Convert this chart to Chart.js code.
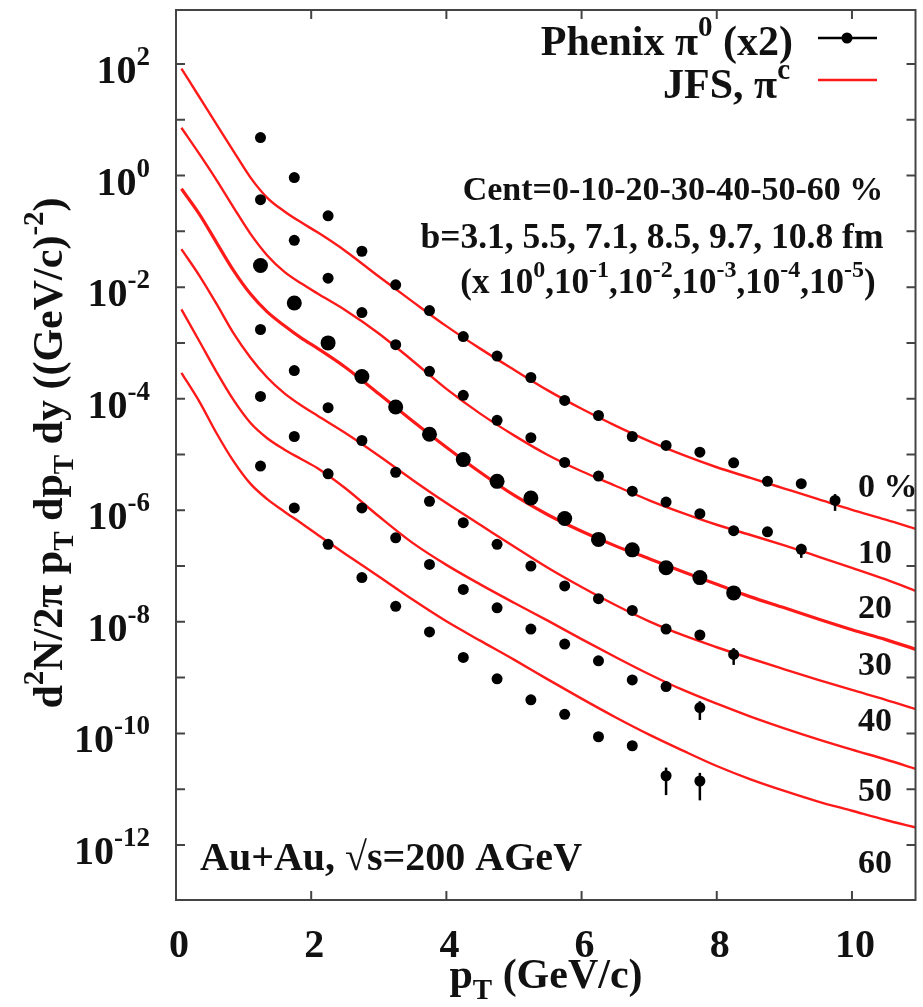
<!DOCTYPE html>
<html>
<head>
<meta charset="utf-8">
<script src="https://cdn.jsdelivr.net/npm/chart.js@4.4.1/dist/chart.umd.min.js"></script>
<style>
  html, body { margin: 0; padding: 0; background: #fff; }
</style>
</head>
<body>
<canvas id="chart" width="923" height="1007"></canvas>
<script>
// PHENIX pi0 data (x2), pT bins
const dataPt = [1.25, 1.75, 2.25, 2.75, 3.25, 3.75, 4.25, 4.75, 5.25, 5.75, 6.25, 6.75, 7.25, 7.75, 8.25, 8.75, 9.25, 9.75];
const phenix0 = [4.8, 0.92, 1.9e-1, 4.4e-2, 1.1e-2, 3.8e-3, 1.3e-3, 5.8e-4, 2.4e-4, 9.3e-5, 5.0e-5, 2.1e-5, 1.45e-5, 1.1e-5, 7.1e-6, 3.3e-6, 3.0e-6, 1.5e-6];
const phenix10 = [3.7e-1, 6.9e-2, 1.45e-2, 3.5e-3, 9.3e-4, 3.1e-4, 1.15e-4, 4.1e-5, 2.0e-5, 7.2e-6, 4.1e-6, 2.2e-6, 1.4e-6, 8.7e-7, 4.3e-7, 4.1e-7, 2.0e-7];
const phenix20 = [2.45e-2, 5.2e-3, 1.0e-3, 2.5e-4, 7.1e-5, 2.3e-5, 8.1e-6, 3.3e-6, 1.66e-6, 7.1e-7, 3.0e-7, 1.95e-7, 9.3e-8, 6.2e-8, 3.3e-8];
const phenix30 = [1.74e-3, 3.2e-4, 6.9e-5, 1.78e-5, 4.8e-6, 1.45e-6, 6.0e-7, 2.45e-7, 1.0e-7, 4.4e-8, 2.6e-8, 1.6e-8, 7.4e-9, 5.8e-9, 2.6e-9];
const phenix40 = [1.1e-4, 2.1e-5, 4.5e-6, 1.1e-6, 3.2e-7, 1.07e-7, 3.8e-8, 1.78e-8, 7.4e-9, 4.0e-9, 2.0e-9, 9.1e-10, 6.9e-10, 2.9e-10];
const phenix50 = [6.2e-6, 1.1e-6, 2.45e-7, 6.2e-8, 1.9e-8, 6.6e-9, 2.3e-9, 9.5e-10, 4.0e-10, 2.2e-10, 8.7e-11, 6.0e-11, 1.74e-11, 1.4e-11];

// the few visible error bars: which series, which point, relative size down / up
const errSeries = [0, 1, 3, 4, 5, 5];
const errIndex = [17, 16, 14, 13, 12, 13];
const errDown = [0.35, 0.3, 0.35, 0.4, 0.55, 0.55];
const errUp = [0.3, 0.25, 0.3, 0.3, 0.4, 0.4];

// JFS pi^c curves
const curvePt = [0.08, 0.35, 0.6, 0.85, 1.1, 1.35, 1.6, 1.85, 2.1, 2.5, 3.0, 3.5, 4.0, 4.5, 5.0, 5.5, 6.0, 6.5, 7.0, 7.5, 8.0, 8.5, 9.0, 9.5, 10.0, 10.5, 10.95];
const jfs0 = [83, 25.1, 8.3, 2.75, 0.93, 0.40, 0.23, 0.145, 9.5e-2, 4.5e-2, 1.55e-2, 5.5e-3, 2.0e-3, 7.9e-4, 3.3e-4, 1.41e-4, 6.6e-5, 3.3e-5, 1.74e-5, 9.8e-6, 5.9e-6, 3.8e-6, 2.45e-6, 1.58e-6, 1.02e-6, 6.8e-7, 4.6e-7];
const jfs10 = [7.2, 2.4, 0.83, 0.27, 9.1e-2, 3.7e-2, 1.9e-2, 1.17e-2, 7.6e-3, 3.9e-3, 1.48e-3, 4.8e-4, 1.5e-4, 5.4e-5, 2.2e-5, 9.8e-6, 5.0e-6, 2.75e-6, 1.51e-6, 8.9e-7, 5.5e-7, 3.6e-7, 2.34e-7, 1.48e-7, 9.3e-8, 5.75e-8, 3.55e-8];
const jfs20 = [0.58, 0.20, 6.3e-2, 2.0e-2, 7.6e-3, 3.6e-3, 2.05e-3, 1.23e-3, 7.9e-4, 3.7e-4, 1.23e-4, 4.0e-5, 1.35e-5, 4.8e-6, 1.86e-6, 8.3e-7, 4.2e-7, 2.3e-7, 1.35e-7, 7.9e-8, 4.7e-8, 2.8e-8, 1.78e-8, 1.12e-8, 7.2e-9, 4.8e-9, 3.2e-9];
const jfs30 = [4.8e-2, 1.58e-2, 5.0e-3, 1.5e-3, 5.5e-4, 2.4e-4, 1.26e-4, 7.6e-5, 4.9e-5, 2.45e-5, 9.5e-6, 3.5e-6, 1.35e-6, 5.5e-7, 2.24e-7, 9.3e-8, 4.2e-8, 2.0e-8, 1.02e-8, 5.75e-9, 3.5e-9, 2.2e-9, 1.41e-9, 9.1e-10, 6.0e-10, 4.0e-10, 2.7e-10];
const jfs40 = [4.0e-3, 1.05e-3, 3.0e-4, 9.5e-5, 3.7e-5, 1.95e-5, 1.23e-5, 8.3e-6, 5.6e-6, 2.5e-6, 7.8e-7, 2.6e-7, 1.05e-7, 4.7e-8, 2.2e-8, 1.05e-8, 4.9e-9, 2.34e-9, 1.15e-9, 6.0e-10, 3.4e-10, 2.0e-10, 1.23e-10, 7.8e-11, 5.1e-11, 3.4e-11, 2.3e-11];
const jfs50 = [2.9e-4, 8.7e-5, 2.4e-5, 7.6e-6, 3.0e-6, 1.58e-6, 9.5e-7, 5.9e-7, 3.6e-7, 1.66e-7, 6.5e-8, 2.5e-8, 1.02e-8, 4.6e-9, 2.1e-9, 9.3e-10, 4.2e-10, 1.95e-10, 9.5e-11, 4.9e-11, 2.6e-11, 1.5e-11, 9.3e-12, 6.0e-12, 4.1e-12, 2.8e-12, 2.05e-12];

// axis ticks
const xTicks = [0, 2, 4, 6, 8, 10];
const yTickValues = [1e3, 1e2, 1e1, 1e0, 1e-1, 1e-2, 1e-3, 1e-4, 1e-5, 1e-6, 1e-7, 1e-8, 1e-9, 1e-10, 1e-11, 1e-12, 1e-13];
const yLabelValues = [1e2, 1e0, 1e-2, 1e-4, 1e-6, 1e-8, 1e-10, 1e-12];
const yLabelExps = ["2", "0", "-2", "-4", "-6", "-8", "-10", "-12"];
const centLabels = ["0 %", "10", "20", "30", "40", "50", "60"];

const FONT = '"Liberation Serif", "DejaVu Serif", serif';
const INK = "#111";
const FRAME = "#444";
const RED = "#ff1a1a";

const phenixSets = [phenix0, phenix10, phenix20, phenix30, phenix40, phenix50];
const jfsSets = [jfs0, jfs10, jfs20, jfs30, jfs40, jfs50];

const datasets = [];
phenixSets.forEach((vals, i) => {
  datasets.push({
    type: "scatter",
    data: vals.map((v, k) => ({ x: dataPt[k], y: v })),
    backgroundColor: "#000",
    borderWidth: 0,
    pointRadius: i === 2 ? 7.5 : 5.5,
    order: 0,
  });
});
jfsSets.forEach((vals, i) => {
  datasets.push({
    type: "line",
    data: vals.map((v, k) => ({ x: curvePt[k], y: v })),
    borderColor: RED,
    borderWidth: i === 2 ? 3.2 : 2.4,
    pointRadius: 0,
    fill: false,
    cubicInterpolationMode: "monotone",
    order: 1,
  });
});

// text helpers with super/subscripts
function partFont(kind, size) {
  const s = kind === "n" ? size : Math.round(size * 0.68);
  return `bold ${s}px ${FONT}`;
}
function richWidth(ctx, parts, size) {
  let w = 0;
  parts.forEach(([t, k]) => {
    ctx.font = partFont(k, size);
    w += ctx.measureText(t).width;
  });
  return w;
}
function drawRich(ctx, parts, x, y, size, align) {
  const w = richWidth(ctx, parts, size);
  let cx = align === "right" ? x - w : align === "center" ? x - w / 2 : x;
  ctx.textAlign = "left";
  ctx.textBaseline = "alphabetic";
  parts.forEach(([t, k]) => {
    ctx.font = partFont(k, size);
    const dy = k === "sup" ? -size * 0.45 : k === "sub" ? size * 0.25 : 0;
    ctx.fillText(t, cx, y + dy);
    cx += ctx.measureText(t).width;
  });
}

const errorBarPlugin = {
  id: "errorBars",
  afterDatasetsDraw(chart) {
    const ctx = chart.ctx;
    const xs = chart.scales.x;
    const ys = chart.scales.y;
    ctx.save();
    ctx.strokeStyle = "#000";
    ctx.lineWidth = 2.5;
    errSeries.forEach((s, i) => {
      const k = errIndex[i];
      const v = phenixSets[s][k];
      const px = xs.getPixelForValue(dataPt[k]);
      ctx.beginPath();
      ctx.moveTo(px, ys.getPixelForValue(v * (1 + errUp[i])));
      ctx.lineTo(px, ys.getPixelForValue(v * (1 - errDown[i])));
      ctx.stroke();
    });
    ctx.restore();
  },
};

const framePlugin = {
  id: "frame",
  afterDraw(chart) {
    const ctx = chart.ctx;
    const a = chart.chartArea;
    const xs = chart.scales.x;
    const ys = chart.scales.y;
    ctx.save();
    ctx.strokeStyle = FRAME;
    ctx.lineWidth = 2;
    ctx.strokeRect(a.left, a.top, a.right - a.left, a.bottom - a.top);

    // ticks inside the frame
    ctx.beginPath();
    yTickValues.forEach((v) => {
      const py = ys.getPixelForValue(v);
      if (py < a.top + 1 || py > a.bottom - 1) return;
      ctx.moveTo(a.left, py); ctx.lineTo(a.left + 9, py);
      ctx.moveTo(a.right, py); ctx.lineTo(a.right - 9, py);
    });
    xTicks.forEach((v) => {
      const px = xs.getPixelForValue(v);
      if (px < a.left + 1) return;
      ctx.moveTo(px, a.bottom); ctx.lineTo(px, a.bottom - 9);
      ctx.moveTo(px, a.top); ctx.lineTo(px, a.top + 9);
    });
    ctx.stroke();

    ctx.fillStyle = INK;
    // y tick labels
    yLabelValues.forEach((v, i) => {
      const py = ys.getPixelForValue(v);
      drawRich(ctx, [["10", "n"], [yLabelExps[i], "sup"]], 150, py + 19, 40, "right");
    });
    // x tick labels
    xTicks.forEach((v) => {
      const px = xs.getPixelForValue(v);
      drawRich(ctx, [[String(v), "n"]], px + 3, 957, 40, "center");
    });

    // axis titles
    drawRich(ctx, [["p", "n"], ["T", "sub"], [" (GeV/c)", "n"]], 546, 988, 42, "center");
    ctx.save();
    ctx.translate(62, 453);
    ctx.rotate(-Math.PI / 2);
    drawRich(ctx, [["d", "n"], ["2", "sup"], ["N/2\u03c0 p", "n"], ["T", "sub"], [" dp", "n"], ["T", "sub"],
      [" dy ((GeV/c)", "n"], ["-2", "sup"], [")", "n"]], 0, 0, 42, "center");
    ctx.restore();

    // legend
    drawRich(ctx, [["Phenix \u03c0", "n"], ["0", "sup"], [" (x2)", "n"]], 793, 55, 42, "right");
    drawRich(ctx, [["JFS, \u03c0", "n"], ["c", "sup"]], 790, 98, 42, "right");
    ctx.strokeStyle = "#000";
    ctx.lineWidth = 2.5;
    ctx.beginPath(); ctx.moveTo(818, 38); ctx.lineTo(877, 38); ctx.stroke();
    ctx.beginPath(); ctx.arc(847, 38, 5.5, 0, Math.PI * 2); ctx.fillStyle = "#000"; ctx.fill();
    ctx.strokeStyle = RED;
    ctx.beginPath(); ctx.moveTo(818, 80); ctx.lineTo(877, 80); ctx.stroke();

    // annotations
    ctx.fillStyle = INK;
    drawRich(ctx, [["Cent=0-10-20-30-40-50-60 %", "n"]], 673, 200, 34, "center");
    drawRich(ctx, [["b=3.1, 5.5, 7.1, 8.5, 9.7, 10.8 fm", "n"]], 652, 248, 35.5, "center");
    drawRich(ctx, [["(x 10", "n"], ["0", "sup"], [",10", "n"], ["-1", "sup"], [",10", "n"], ["-2", "sup"],
      [",10", "n"], ["-3", "sup"], [",10", "n"], ["-4", "sup"], [",10", "n"], ["-5", "sup"], [")", "n"]], 668, 293, 35, "center");
    drawRich(ctx, [["Au+Au, \u221As=200 AGeV", "n"]], 200, 870, 40, "left");

    const centY = [497, 563, 618, 675, 731, 801, 873];
    centLabels.forEach((t, i) => {
      drawRich(ctx, [[t, "n"]], 858, centY[i], 34, "left");
    });
    ctx.restore();
  },
};

new Chart(document.getElementById("chart"), {
  type: "scatter",
  data: { datasets },
  options: {
    responsive: false,
    animation: false,
    layout: { padding: { top: 10, right: 1, left: 0, bottom: 0 } },
    plugins: { legend: { display: false }, tooltip: { enabled: false } },
    scales: {
      x: {
        type: "linear",
        min: 0,
        max: 10.94,
        grid: { display: false },
        border: { display: false },
        ticks: { display: false },
        afterFit: (s) => { s.height = 107; },
      },
      y: {
        type: "logarithmic",
        min: 1.03e-13,
        max: 930,
        grid: { display: false },
        border: { display: false },
        ticks: { display: false },
        afterFit: (s) => { s.width = 176; },
      },
    },
  },
  plugins: [errorBarPlugin, framePlugin],
});
</script>
</body>
</html>
